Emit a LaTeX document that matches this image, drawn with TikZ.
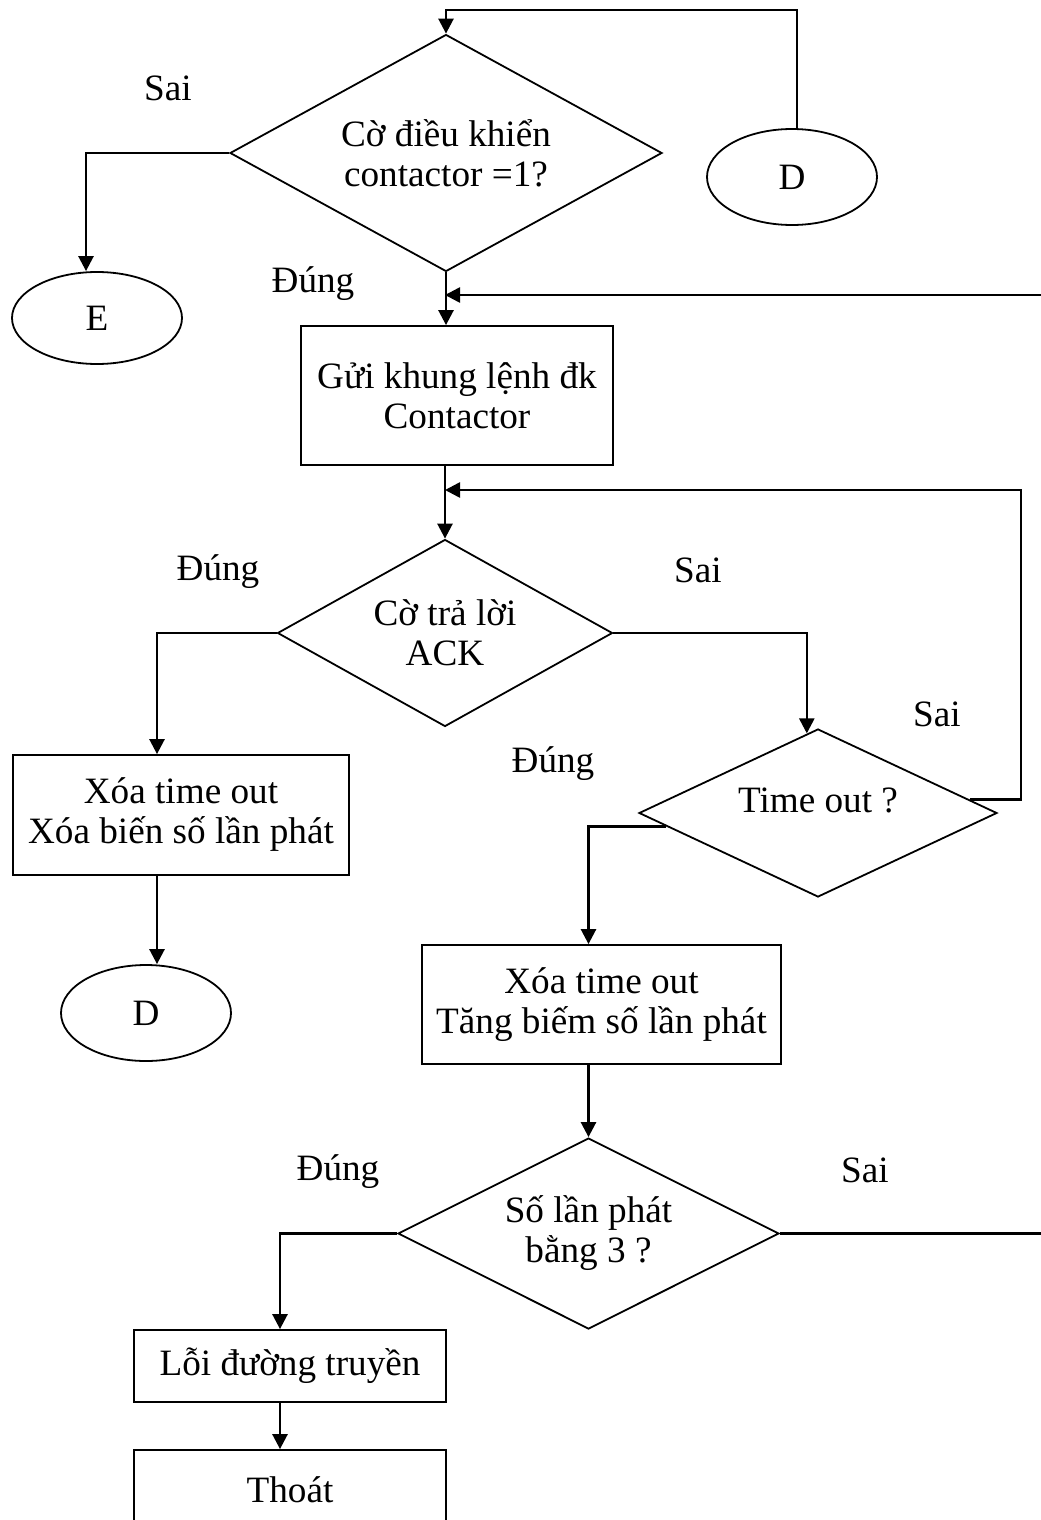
\documentclass[tikz,border=0pt]{standalone}
\usepackage{fontspec}
\setmainfont{Liberation Serif}
\usetikzlibrary{arrows.meta,shapes.geometric}

\begin{document}
\begin{tikzpicture}[x=0.5pt, y=-0.5pt,
    font=\fontsize{18.6}{20}\selectfont,
    dec/.style={draw, diamond, line width=0.9pt, inner sep=0pt, align=center},
    box/.style={draw, rectangle, line width=0.9pt, inner sep=0pt, align=center},
    conn/.style={draw, ellipse, line width=0.9pt, minimum width=85pt, minimum height=48pt},
    arr/.style={-{Triangle[length=7.5pt,width=7.5pt]}, line width=1.3pt},
    lbl/.style={inner sep=0pt}]
  \useasboundingbox (0,0) rectangle (1040,1520);

  % shapes
  \node[dec, aspect=1.82, minimum width=216pt, minimum height=118.5pt] (c) at (446,153) {Cờ điều khiển\\contactor =1?};
  \node[conn] (dA) at (792,177) {D};
  \node[conn, minimum height=46pt] (e) at (97,318) {E};
  \node[box, minimum width=156pt, minimum height=69.5pt] (g) at (457,395.5) {Gửi khung lệnh đk\\Contactor};
  \node[dec, aspect=1.79, minimum width=167.5pt, minimum height=93.5pt] (a) at (445,633) {Cờ trả lời\\ACK};
  \node[box, minimum width=168pt, minimum height=60pt] (x) at (181,815) {Xóa time out\\Xóa biến số lần phát};
  \node[conn] (dB) at (146,1013) {D};
  \node[dec, aspect=2.13, minimum width=179pt, minimum height=84pt,
    label={[yshift=6.5pt]center:Time out ?}] (t) at (818,813) {};
  \node[box, minimum width=179.5pt, minimum height=59.5pt] (z) at (601.5,1004.5) {Xóa time out\\Tăng biếm số lần phát};
  \node[dec, aspect=2, minimum width=190.5pt, minimum height=95.5pt] (s) at (588.5,1233.5) {Số lần phát\\bằng 3 ?};
  \node[box, minimum width=156pt, minimum height=36pt] (l) at (290,1366) {Lỗi đường truyền};
  \node[box, minimum width=156pt, minimum height=40pt] (q) at (290,1490) {Thoát};

  % labels
  \node[lbl] (s1) at (168,88) {Sai};
  \node[lbl] (u1) at (313,284) {Đúng};
  \node[lbl] (u2) at (218,572) {Đúng};
  \node[lbl] (s2) at (698,570) {Sai};
  \node[lbl] (u3) at (553,764) {Đúng};
  \node[lbl] (s3) at (937,714) {Sai};
  \node[lbl] (u4) at (338,1172) {Đúng};
  \node[lbl] (s4) at (865,1170) {Sai};

  % bends
  \coordinate (topL) at (0,10);
  \coordinate (rgt1) at (1050,0);
  \coordinate (ret1) at (445,295);
  \coordinate (ret2) at (1021,490);
  \coordinate (ret2b) at (445,490);

  % connectors
  \draw[arr] ([xshift=2.5pt]dA.north) -- ([xshift=2.5pt]dA.north |- topL) -| (c.north);
  \draw[arr] (c.west) -| ([xshift=-5.5pt]e.north);
  \draw[arr] (c.south) -- (c.south |- g.north);
  \draw[arr] (s.east) -- (s.east -| rgt1) |- (ret1);
  \draw[arr] (g.south -| a.north) -- (a.north);
  \draw[arr] (t.5) -| (ret2) -- (ret2b);
  \draw[arr] (a.west) -| ([xshift=-12pt]x.north);
  \draw[arr] ([xshift=-12pt]x.south) -- ([xshift=-12pt]x.south |- dB.north);
  \draw[arr] (a.east) -| (t.98);
  \draw[arr] (t.185) -| (s.north |- z.north);
  \draw[arr] (s.north |- z.south) -- (s.north);
  \draw[arr] (s.west) -| ([xshift=-5pt]l.north);
  \draw[arr] ([xshift=-5pt]l.south) -- ([xshift=-5pt]q.north);
\end{tikzpicture}
\end{document}
